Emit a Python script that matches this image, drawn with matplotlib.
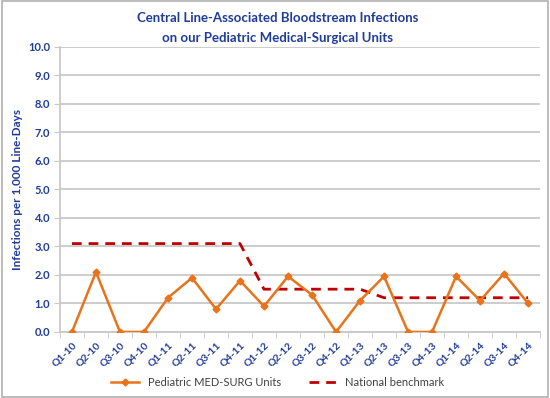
import matplotlib
matplotlib.use("Agg")
import matplotlib.pyplot as plt
import numpy as np

categories = ["Q1-10","Q2-10","Q3-10","Q4-10","Q1-11","Q2-11","Q3-11","Q4-11",
              "Q1-12","Q2-12","Q3-12","Q4-12","Q1-13","Q2-13","Q3-13","Q4-13",
              "Q1-14","Q2-14","Q3-14","Q4-14"]
peds_values = [0.0, 2.1, 0.0, 0.0, 1.2, 1.9, 0.8, 1.8,
               0.9, 1.95, 1.3, 0.0, 1.1, 1.95, 0.0, 0.0,
               1.95, 1.1, 2.05, 1.0]
benchmark = [3.1, 3.1, 3.1, 3.1, 3.1, 3.1, 3.1, 3.1,
             1.5, 1.5, 1.5, 1.5, 1.5, 1.2, 1.2, 1.2,
             1.2, 1.2, 1.2, 1.2]
yticks = [0, 1, 2, 3, 4, 5, 6, 7, 8, 9, 10]

plt.rcParams['font.family'] = ['Lato', 'DejaVu Sans']
blue = "#1F3C99"
orange = "#E8731A"
red = "#C00000"
grid = "#C8C8C8"

fig = plt.figure(figsize=(5.5, 3.98), dpi=100)
ax = fig.add_axes([0.109, 0.166, 0.873, 0.716])
x = np.arange(len(categories))

ax.plot(x, benchmark, color=red, lw=2, ls=(0, (3.5, 2.5)), label="National benchmark", zorder=3)
ax.plot(x, peds_values, color=orange, lw=1.8, marker='D', ms=3.5, label="Pediatric MED-SURG Units", zorder=4)

ax.set_xlim(-0.5, len(categories) - 0.5)
ax.set_ylim(0, 10)
ax.set_yticks(yticks)
ax.set_yticklabels([f"{v:.1f}" for v in yticks], fontsize=8, fontweight='bold', color=blue)
ax.set_xticks(x)
ax.set_xticklabels(categories, rotation=45, ha='right', rotation_mode='anchor',
                   fontsize=7.5, fontweight='bold', color=blue)
ax.tick_params(axis='x', which='major', length=0, pad=6)
ax.set_xticks(np.arange(-0.5, len(categories), 1), minor=True)
ax.tick_params(axis='x', which='minor', length=4, color=grid)
ax.tick_params(axis='y', length=4, color=grid, pad=3)
ax.yaxis.grid(True, color=grid, lw=1.3)
ax.set_axisbelow(True)
for s in ['top', 'right']:
    ax.spines[s].set_visible(False)
for s in ['left', 'bottom']:
    ax.spines[s].set_color(grid)
    ax.spines[s].set_linewidth(1.3)

ax.set_ylabel("Infections per 1,000 Line-Days", fontsize=8.5, fontweight='bold', color=blue, labelpad=4)

fig.text(0.505, 0.955, "Central Line-Associated Bloodstream Infections", ha='center', va='center',
         fontsize=9.5, fontweight='bold', color=blue)
fig.text(0.505, 0.905, "on our Pediatric Medical-Surgical Units", ha='center', va='center',
         fontsize=9.5, fontweight='bold', color=blue)

h, l = ax.get_legend_handles_labels()
leg = fig.legend(h[::-1], l[::-1], loc='center', bbox_to_anchor=(0.505, 0.04), ncol=2, frameon=False,
                 fontsize=8, handlelength=2.5, columnspacing=2.5)
for t in leg.get_texts():
    t.set_color("#404040")

border = plt.Rectangle((0.003, 0.003), 0.994, 0.994, transform=fig.transFigure, fill=False,
                       edgecolor="#B0B0B0", lw=1.2)
fig.patches.append(border)

fig.savefig("out.png", dpi=100)
